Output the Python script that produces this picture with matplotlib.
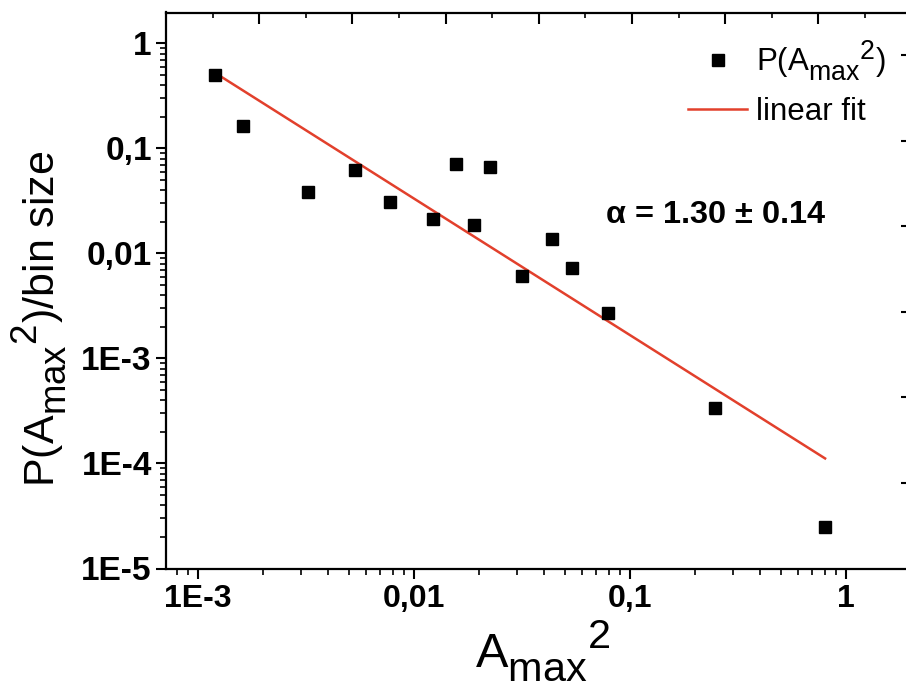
import matplotlib
matplotlib.use("Agg")
import matplotlib.pyplot as plt
import matplotlib._mathtext as _mathtext
from matplotlib.ticker import LogLocator, NullFormatter, FixedLocator
import numpy as np

# Larger, lower subscripts, closer to the usual plotting-software look
_mathtext.SHRINK_FACTOR = 0.85
for _name in dir(_mathtext):
    _obj = getattr(_mathtext, _name)
    if isinstance(_obj, type) and issubclass(_obj, _mathtext.FontConstantsBase):
        _obj.subdrop = 0.75
        _obj.sub1 = 0.55

plt.rcParams["font.family"] = ["Liberation Sans", "DejaVu Sans"]
plt.rcParams["mathtext.default"] = "regular"

# ---- data -------------------------------------------------------------
a_max_sq = [1.208e-3, 1.614e-3, 3.23e-3, 5.37e-3, 7.76e-3, 0.01222, 0.0157,
            0.0191, 0.02254, 0.0317, 0.0436, 0.0543, 0.0796, 0.248, 0.803]
prob_density = [0.501, 0.165, 0.0383, 0.0624, 0.0311, 0.0213, 0.0712,
                0.0185, 0.0671, 0.00613, 0.01365, 0.00728, 0.00269,
                3.36e-4, 2.50e-5]

fit_alpha = 1.30
fit_alpha_err = 0.14
fit_amplitude = 8.4e-5   # P = amplitude * A^(-alpha)

x_ticks = [1e-3, 1e-2, 1e-1, 1]
x_tick_labels = ["1E-3", "0,01", "0,1", "1"]
y_ticks = [1e-5, 1e-4, 1e-3, 1e-2, 1e-1, 1]
y_tick_labels = ["1E-5", "1E-4", "1E-3", "0,01", "0,1", "1"]

# ---- figure -----------------------------------------------------------
W, H = 906, 690
fig = plt.figure(figsize=(W / 100, H / 100), dpi=100)
left, right, bottom, top = 166, 911.6, 568.5, 12.5
pos = [left / W, (H - bottom) / H, (right - left) / W, (bottom - top) / H]
ax = fig.add_axes(pos)

ax.set_xscale("log")
ax.set_yscale("log")
ax.set_xlim(7.13e-4, 2.02)
ax.set_ylim(1e-5, 1.97)

fit_x = np.array([a_max_sq[0], a_max_sq[-1]])
fit_y = fit_amplitude * fit_x ** (-fit_alpha)
ax.plot(fit_x, fit_y, color="#E2402C", lw=1.8, label="linear fit", zorder=2)
ax.plot(a_max_sq, prob_density, ls="none", marker="s", ms=8.5, color="black",
        label=r"P(A$_{max}$$^{2}$)", zorder=3)

for s in ax.spines.values():
    s.set_linewidth(1.6)

ax.set_xticks(x_ticks, x_tick_labels)
ax.set_yticks(y_ticks, y_tick_labels)
ax.xaxis.set_minor_locator(LogLocator(base=10, subs=np.arange(2, 10)))
ax.yaxis.set_minor_locator(LogLocator(base=10, subs=np.arange(2, 10)))
ax.xaxis.set_minor_formatter(NullFormatter())
ax.yaxis.set_minor_formatter(NullFormatter())
ax.tick_params(which="major", direction="out", length=7.2, width=1.5, pad=3)
ax.tick_params(which="minor", direction="out", length=4.3, width=1.2)
ax.tick_params(axis="x", which="major", pad=4, labelsize=23)
ax.tick_params(axis="y", which="major", labelsize=24)
for lab in ax.get_xticklabels() + ax.get_yticklabels():
    lab.set_fontweight("bold")

ax.set_xlabel(r"A$_{max}$$^{2}$", fontsize=35)
ax.set_ylabel(r"P(A$_{max}$$^{2}$)/bin size", fontsize=31)
ax.xaxis.set_label_coords(0.505, -0.09)
ax.yaxis.set_label_coords(-0.127, 0.45)

# inward linear ticks along the top and right edges
ax2 = fig.add_axes(pos, frameon=False)
ax2.set_xlim(0, 8)
ax2.set_ylim(0, 6.5)
ax2.xaxis.set_major_locator(FixedLocator(np.arange(1, 8)))
ax2.xaxis.set_minor_locator(FixedLocator(np.arange(0.5, 8, 1)))
ax2.yaxis.set_major_locator(FixedLocator(np.arange(1, 7)))
ax2.yaxis.set_minor_locator(FixedLocator(np.arange(0.5, 6.5, 1)))
ax2.tick_params(which="both", direction="in", top=True, right=True,
                bottom=False, left=False, labeltop=False, labelbottom=False,
                labelleft=False, labelright=False)
ax2.tick_params(which="major", length=7.9, width=1.5)
ax2.tick_params(which="minor", length=3.6, width=1.2, colors="#bbbbbb")
ax2.tick_params(axis="x", which="minor", colors="black")
ax2.patch.set_visible(False)

ax.text(0.589, 0.636, rf"$\alpha$ = {fit_alpha:.2f} $\pm$ {fit_alpha_err:.2f}",
        transform=ax.transAxes, fontsize=23.4, fontweight="bold",
        ha="left", va="center")

handles, labels = ax.get_legend_handles_labels()
leg = ax.legend(handles[::-1], labels[::-1], loc="upper left",
                bbox_to_anchor=(688 / W, (H - 38) / H),
                bbox_transform=fig.transFigure, frameon=False, fontsize=22.5,
                numpoints=1, handlelength=1.9, handletextpad=0.28,
                labelspacing=0.45, borderpad=0, borderaxespad=0)

fig.savefig("out.png", dpi=100)
